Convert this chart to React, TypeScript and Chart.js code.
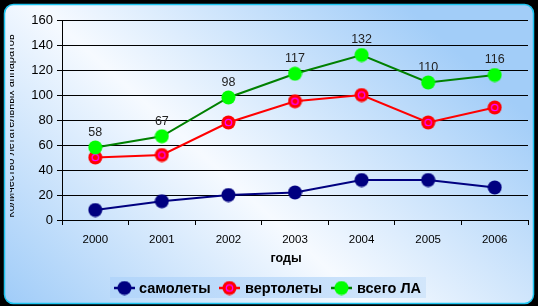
import React, { useEffect, useRef } from 'react';
import { Chart, registerables } from 'chart.js';
Chart.register(...registerables);

const years = ['2000', '2001', '2002', '2003', '2004', '2005', '2006'];
const planes = [8, 15, 20, 22, 32, 32, 26];
const helicopters = [50, 52, 78, 95, 100, 78, 90];
const totalAircraft = [58, 67, 98, 117, 132, 110, 116];
const seriesNames = ['самолеты', 'вертолеты', 'всего ЛА'];
const xTitle = 'годы';
const yTitle = 'Количество летательных аппаратов';
const yMin = 0;
const yMax = 160;
const yStep = 20;

const FONT = '"Liberation Sans", Arial, sans-serif';

function makeMarker(fill: string, ring?: string): HTMLCanvasElement {
  const c = document.createElement('canvas');
  c.width = 15;
  c.height = 15;
  const g = c.getContext('2d')!;
  g.beginPath();
  g.arc(7.5, 7.5, 7, 0, Math.PI * 2);
  g.fillStyle = fill;
  g.fill();
  if (ring) {
    g.beginPath();
    g.arc(7.5, 7.5, 3.2, 0, Math.PI * 2);
    g.strokeStyle = ring;
    g.lineWidth = 1.3;
    g.stroke();
  }
  return c;
}

export default function App() {
  const ref = useRef<HTMLCanvasElement | null>(null);

  useEffect(() => {
    document.body.style.margin = '0';
    const canvas = ref.current!;
    const navyM = makeMarker('#000080');
    const redM = makeMarker('#ff0000', '#ff00ff');
    const greenM = makeMarker('#00ff00');
    const markers = [navyM, redM, greenM];
    const lineColors = ['#000080', '#ff0000', '#008000'];

    const bgPlugin = {
      id: 'bg',
      beforeDraw(chart: any) {
        const ctx = chart.ctx;
        const W = chart.width;
        const H = chart.height;
        ctx.save();
        ctx.fillStyle = '#000';
        ctx.fillRect(0, 0, W, H);
        const grad = ctx.createLinearGradient(0, H, W * 0.62, -H * 0.2);
        grad.addColorStop(0, '#9ecbf8');
        grad.addColorStop(0.5, '#f6faff');
        grad.addColorStop(1, '#a2cdf8');
        ctx.beginPath();
        const x0 = 4.5, y0 = 4.5, x1 = 533.5, y1 = 303.5, r = 9;
        ctx.moveTo(x0 + r, y0);
        ctx.lineTo(x1 - r, y0);
        ctx.arcTo(x1, y0, x1, y0 + r, r);
        ctx.lineTo(x1, y1 - r);
        ctx.arcTo(x1, y1, x1 - r, y1, r);
        ctx.lineTo(x0 + r, y1);
        ctx.arcTo(x0, y1, x0, y1 - r, r);
        ctx.lineTo(x0, y0 + r);
        ctx.arcTo(x0, y0, x0 + r, y0, r);
        ctx.closePath();
        ctx.fillStyle = grad;
        ctx.fill();
        ctx.strokeStyle = '#1ec4f0';
        ctx.lineWidth = 1.5;
        ctx.stroke();

        // y axis title (partly clipped at the left edge)
        ctx.save();
        ctx.beginPath();
        ctx.rect(10, 0, 40, H);
        ctx.clip();
        ctx.translate(14, 126);
        ctx.rotate(-Math.PI / 2);
        ctx.font = `11px ${FONT}`;
        ctx.fillStyle = '#000';
        ctx.textAlign = 'center';
        ctx.textBaseline = 'alphabetic';
        ctx.fillText(yTitle, 0, 0);
        ctx.restore();
        ctx.restore();
      },
      afterDatasetsDraw(chart: any) {
        const ctx = chart.ctx;
        ctx.save();
        // data labels on total
        const meta = chart.getDatasetMeta(2);
        ctx.font = `12.5px ${FONT}`;
        ctx.fillStyle = '#222';
        ctx.textAlign = 'center';
        ctx.textBaseline = 'middle';
        meta.data.forEach((pt: any, i: number) => {
          ctx.fillText(String(totalAircraft[i]), pt.x, pt.y - 15);
        });
        // x title
        ctx.font = `bold 12.5px ${FONT}`;
        ctx.fillStyle = '#000';
        ctx.fillText(xTitle, 286, 259);
        // legend
        const lx0 = 110, ly0 = 277, lx1 = 426, ly1 = 298;
        const lg = ctx.createLinearGradient(lx0, 0, lx1, 0);
        lg.addColorStop(0, '#b2d5fa');
        lg.addColorStop(1, '#d2e6fb');
        ctx.fillStyle = lg;
        ctx.fillRect(lx0, ly0, lx1 - lx0, ly1 - ly0);
        const cy = 288;
        const items = [
          { x: 114, tx: 139 },
          { x: 219, tx: 245 },
          { x: 331, tx: 357 },
        ];
        ctx.font = `bold 14.5px ${FONT}`;
        ctx.textAlign = 'left';
        items.forEach((it, i) => {
          ctx.strokeStyle = lineColors[i];
          ctx.lineWidth = 2.5;
          ctx.beginPath();
          ctx.moveTo(it.x, cy);
          ctx.lineTo(it.x + 21, cy);
          ctx.stroke();
          ctx.drawImage(markers[i], it.x + 10.5 - 7.5, cy - 7.5);
          ctx.fillStyle = '#000';
          ctx.fillText(seriesNames[i], it.tx, cy + 1);
        });
        ctx.restore();
      },
    };

    const chart = new Chart(canvas, {
      type: 'line',
      data: {
        labels: years,
        datasets: [
          {
            label: seriesNames[0],
            data: planes,
            borderColor: '#000080',
            borderWidth: 2,
            pointStyle: navyM as any,
            order: 3,
          },
          {
            label: seriesNames[1],
            data: helicopters,
            borderColor: '#ff0000',
            borderWidth: 2,
            pointStyle: redM as any,
            order: 2,
          },
          {
            label: seriesNames[2],
            data: totalAircraft,
            borderColor: '#008000',
            borderWidth: 2,
            pointStyle: greenM as any,
            order: 1,
          },
        ],
      },
      options: {
        animation: false,
        responsive: false,
        devicePixelRatio: 1,
        layout: { padding: { top: 20, right: 10, left: 0, bottom: 0 } },
        plugins: {
          legend: { display: false },
          tooltip: { enabled: false },
          title: { display: false },
        },
        elements: { line: { tension: 0 } },
        scales: {
          x: {
            offset: true,
            grid: {
              offset: true,
              drawOnChartArea: false,
              drawTicks: true,
              tickLength: 5,
              color: '#000',
            },
            border: { color: '#000', width: 1 },
            ticks: {
              font: { family: FONT, size: 11.5 },
              color: '#000',
              padding: 8,
              maxRotation: 0,
            },
            afterFit: (s: any) => {
              s.height = 86;
            },
          },
          y: {
            min: yMin,
            max: yMax,
            ticks: {
              stepSize: yStep,
              font: { family: FONT, size: 13 },
              color: '#000',
              padding: 4,
            },
            grid: { color: '#000', tickLength: 5, lineWidth: 1 },
            border: { color: '#000', width: 1 },
            afterFit: (s: any) => {
              s.width = 62;
            },
          },
        },
      },
      plugins: [bgPlugin],
    });
    return () => chart.destroy();
  }, []);

  return (
    <div style={{ width: 538, height: 306 }}>
      <canvas ref={ref} width={538} height={306} style={{ display: 'block' }} />
    </div>
  );
}
